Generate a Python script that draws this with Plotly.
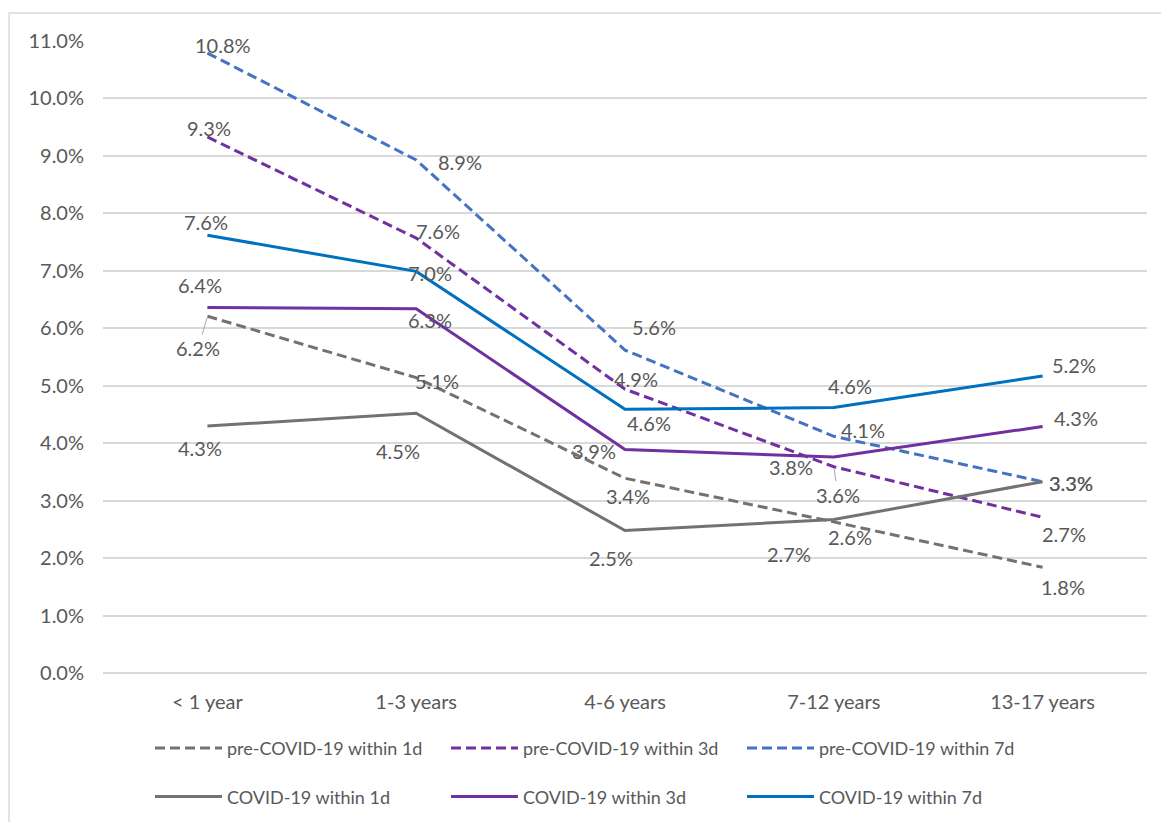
import plotly.graph_objects as go

# Age groups along the x axis
age_groups = ["< 1 year", "1-3 years", "4-6 years", "7-12 years", "13-17 years"]

# Share of children (%) per age group
pre_1d = [6.21, 5.14, 3.39, 2.63, 1.84]
pre_3d = [9.33, 7.57, 4.94, 3.59, 2.71]
pre_7d = [10.79, 8.93, 5.62, 4.12, 3.33]
cov_1d = [4.30, 4.52, 2.48, 2.67, 3.33]
cov_3d = [6.36, 6.34, 3.89, 3.76, 4.29]
cov_7d = [7.62, 6.99, 4.59, 4.62, 5.17]

# Label offsets from each point (px right, px down)
off_pre_1d = [(-9, 32), (21, 3), (3, 18), (16, 15), (20, 20)]
off_pre_3d = [(2, -9), (22, -7), (11, -10), (4, 28), (21, 17)]
off_pre_7d = [(16, -8), (44, 2), (29, -23), (29, -6), (28, 1)]
off_cov_1d = [(-7, 22), (-18, 38), (-14, 27), (-45, 34), (28, 1)]
off_cov_3d = [(-7, -23), (14, 11), (-31, 1), (-43, 10), (33, -9)]
off_cov_7d = [(-1, -13), (14, 2), (24, 14), (16, -22), (31, -11)]

# Leader lines for crowded labels: (series index, point index)
leaders = {(0, 0), (1, 3)}

GRAY = "#767171"
PURPLE = "#7030A0"
BLUE_D = "#4472C4"
BLUE = "#0070C0"
TEXT = "#595959"
GRID = "#D9D9D9"
FONT = "Lato"
LABEL_SIZE = 20
LEGEND_SIZE = 18

series = [
    ("pre-COVID-19 within 1d", pre_1d, off_pre_1d, GRAY, "10px,5px", "legend"),
    ("pre-COVID-19 within 3d", pre_3d, off_pre_3d, PURPLE, "10px,5px", "legend"),
    ("pre-COVID-19 within 7d", pre_7d, off_pre_7d, BLUE_D, "10px,5px", "legend"),
    ("COVID-19 within 1d", cov_1d, off_cov_1d, GRAY, "solid", "legend2"),
    ("COVID-19 within 3d", cov_3d, off_cov_3d, PURPLE, "solid", "legend2"),
    ("COVID-19 within 7d", cov_7d, off_cov_7d, BLUE, "solid", "legend2"),
]

fig = go.Figure()
annotations = []
for si, (name, vals, offs, color, dash, leg) in enumerate(series):
    fig.add_trace(go.Scatter(
        x=age_groups, y=vals, name=name, mode="lines",
        line=dict(color=color, width=3, dash=dash),
        legend=leg, hoverinfo="skip",
    ))
    for pi, (cat, v, (dx, dy)) in enumerate(zip(age_groups, vals, offs)):
        label = f"{v:.1f}%"
        if (si, pi) in leaders:
            annotations.append(dict(
                x=cat, y=v, text=label, showarrow=True, arrowhead=0,
                arrowwidth=1, arrowcolor="#A6A6A6", ax=dx, ay=dy,
                standoff=2, font=dict(family=FONT, size=LABEL_SIZE, color=TEXT),
            ))
        else:
            annotations.append(dict(
                x=cat, y=v, text=label, showarrow=False,
                xshift=dx, yshift=-dy,
                font=dict(family=FONT, size=LABEL_SIZE, color=TEXT),
            ))

# Outer chart border
fig.add_shape(type="rect", xref="paper", yref="paper",
              x0=-0.090, x1=1.03, y0=-0.27, y1=1.0443,
              line=dict(color=GRID, width=1.5), layer="below")

legend_common = dict(
    orientation="h", xanchor="left", yanchor="middle",
    entrywidth=214, entrywidthmode="pixels", itemwidth=67,
    font=dict(family=FONT, size=LEGEND_SIZE, color=TEXT),
    bgcolor="rgba(0,0,0,0)",
)

fig.update_layout(
    width=1161, height=822,
    margin=dict(l=103, r=14, t=41, b=149, autoexpand=False),
    paper_bgcolor="white", plot_bgcolor="white",
    font=dict(family=FONT, size=LABEL_SIZE, color=TEXT),
    annotations=annotations,
    xaxis=dict(
        type="category", range=[-0.5, 4.5], showgrid=False,
        showline=False, ticks="", ticklabelstandoff=15,
        tickfont=dict(family=FONT, size=LABEL_SIZE, color=TEXT),
    ),
    yaxis=dict(
        range=[0, 11], dtick=1, tickformat=".1f", ticksuffix="%",
        showgrid=True, gridcolor=GRID, gridwidth=1.5,
        zeroline=True, zerolinecolor=GRID, zerolinewidth=1.5,
        showline=False, ticks="", ticklabelstandoff=18,
        tickfont=dict(family=FONT, size=LABEL_SIZE, color=TEXT),
    ),
    legend=dict(legend_common, x=0.045, y=-0.119),
    legend2=dict(legend_common, x=0.045, y=-0.196),
)

fig.write_html("out.html")
